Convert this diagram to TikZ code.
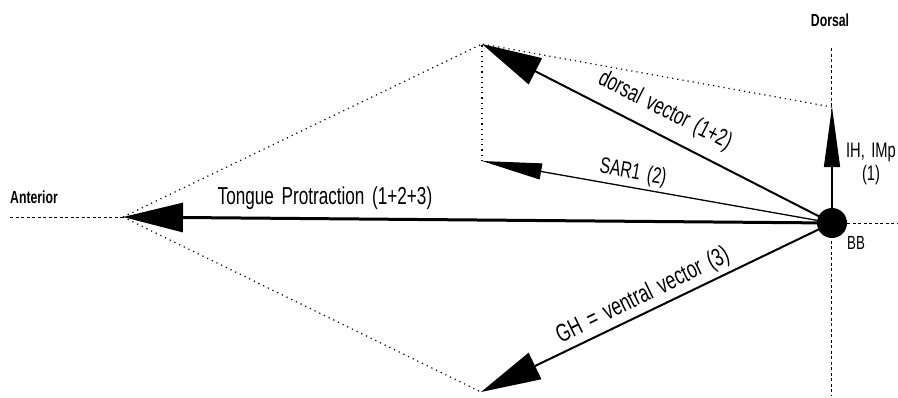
\documentclass[tikz,border=0pt]{standalone}
\usepackage{fontspec}
\setmainfont[FakeStretch=0.7, WordSpace=1.6]{Liberation Sans}
\usetikzlibrary{arrows.meta}
\begin{document}
\begin{tikzpicture}[x=1pt,y=-1pt,
  guide/.style={dash pattern=on 3pt off 2.5pt, line width=0.8pt},
  constr/.style={dash pattern=on 1.2pt off 4pt, line width=1.2pt},
  bigvec/.style={line width=#1, -{Triangle[length=60pt,width=29pt]}},
  thinvec/.style={line width=#1, -{Triangle[length=60pt,width=16pt]}},
  lbl/.style={inner sep=0pt, font=\fontsize{23}{25}\selectfont},
  axislbl/.style={inner sep=0pt, font=\bfseries\fontsize{17.5}{19}\selectfont}]
\useasboundingbox (0,0) rectangle (898,397);

% force vector end points
\coordinate (ih)  at (832,107);
\coordinate (dv)  at (482,44);
\coordinate (sar) at (482,161);
\coordinate (gh)  at (481,392);
\coordinate (tp)  at (123,217);
\coordinate (antEnd) at (10,217);
\coordinate (dTop) at (831,48);
\coordinate (dBot) at (831,395);
\coordinate (rEnd) at (898,223);

% basibranchial
\node[circle, fill, minimum size=30pt, inner sep=0pt] (BB) at (832,223) {};

% reference axes
\draw[guide] (dTop) -- (dBot);
\draw[guide] (BB) -- (rEnd);
\draw[guide] (antEnd) -- (tp);

% parallelogram construction lines
\draw[constr] (ih) -- (dv);
\draw[constr] (sar) -- (dv);
\draw[constr] (tp) -- (dv);
\draw[constr] (tp) -- (gh);

% vectors
\draw[bigvec=3pt] (BB.center) -- (tp);
\draw[bigvec=2pt] (BB.center) -- (dv);
\draw[bigvec=2pt] (BB.center) -- (gh);
\draw[thinvec=1.3pt] (BB.center) -- (sar);
\draw[thinvec=1.3pt] (BB.center) -- (ih);

% labels
\node[axislbl] (antLbl) at (34,197) {Anterior};
\node[axislbl] (dorLbl) at (830,20) {Dorsal};
\node[lbl, font=\fontsize{24.5}{26}\selectfont] (tpLbl) at (325,198) {Tongue Protraction (1+2+3)};
\node[lbl, font=\fontsize{24}{26}\selectfont, rotate=-27] (dvLbl) at (665,111) {dorsal vector (1+2)};
\node[lbl, font=\fontsize{22.5}{24}\selectfont, rotate=-10] (sarLbl) at (633,173) {SAR1 (2)};
\node[lbl, font=\fontsize{25}{27}\selectfont, rotate=26] (ghLbl) at (643,296) {GH = ventral vector (3)};
\node[lbl, align=center, font=\fontsize{21}{23}\selectfont] (ihLbl) at (871,164) {IH, IMp\\(1)};
\node[lbl, font=\fontsize{19}{21}\selectfont] (bbLbl) at (856,243) {BB};
\end{tikzpicture}
\end{document}
